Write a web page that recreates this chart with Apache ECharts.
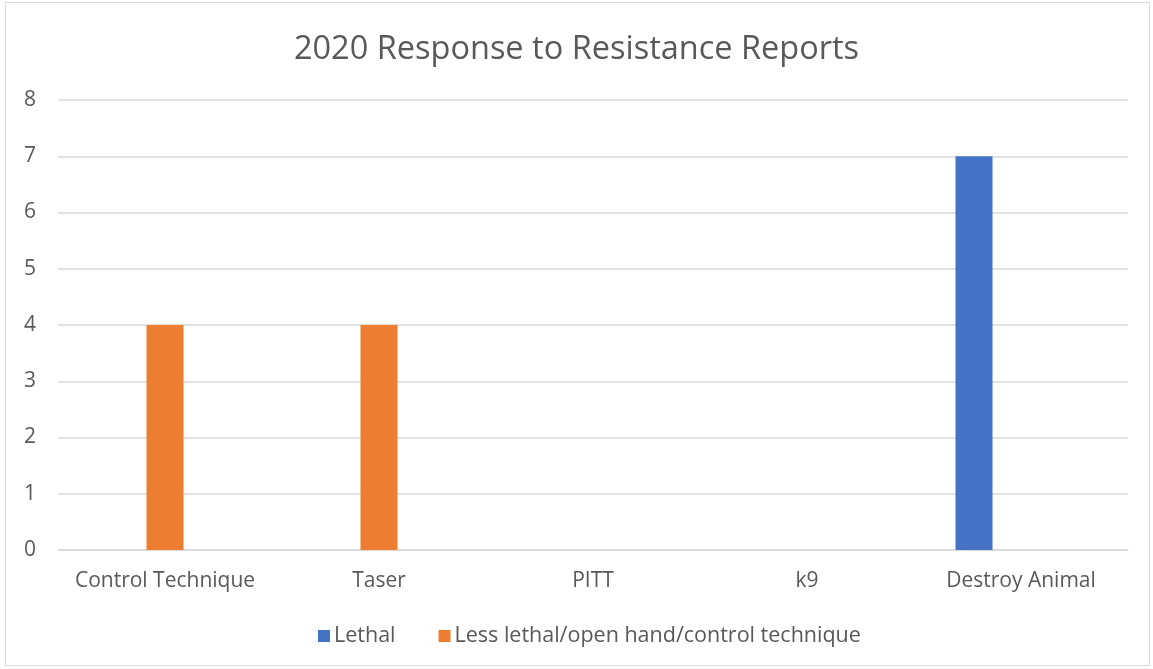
<!DOCTYPE html>
<html><head><meta charset="utf-8">
<script src="https://cdn.jsdelivr.net/npm/echarts@6/dist/echarts.min.js"></script>
<style>html,body{margin:0;padding:0;background:#fff}#wrap{position:absolute;left:5px;top:2px;width:1145px;height:664px;border:1px solid #d9d9d9;box-sizing:border-box}#c{position:absolute;left:0;top:0;width:1153px;height:669px}</style>
</head><body><div id="wrap"></div><div id="c"></div>
<script>
const categories = ["Control Technique", "Taser", "PITT", "k9", "Destroy Animal"];
const lethal = [null, null, null, null, 7];
const lessLethal = [4, 4, null, null, null];
const third = [null, null, null, null, null];
const yTicks = [0, 8, 1];

const chart = echarts.init(document.getElementById('c'));
const font = 'Open Sans, Liberation Sans, Arial, sans-serif';
chart.setOption({
  animation: false,
  title: {text: '2020 Response to Resistance Reports', left: 'center', top: 28,
    textStyle: {fontFamily: font, fontSize: 32.5, fontWeight: 'normal', color: '#595959'}},
  legend: {data: ['Lethal', 'Less lethal/open hand/control technique'], bottom: 17, left: 313,
    itemWidth: 12, itemHeight: 12, itemGap: 43, icon: 'rect',
    textStyle: {fontFamily: font, fontSize: 21.5, color: '#595959', padding: [0,0,0,-1]}},
  grid: {left: 58, right: 25, top: 100, bottom: 119, containLabel: false},
  xAxis: {type: 'category', data: categories,
    axisLine: {lineStyle: {color: '#d9d9d9', width: 1.5}}, axisTick: {show: false},
    axisLabel: {interval: 0, fontFamily: font, fontSize: 21, color: '#595959', margin: 21}},
  yAxis: {type: 'value', min: yTicks[0], max: yTicks[1], interval: yTicks[2],
    axisLine: {show: false}, axisTick: {show: false},
    splitLine: {lineStyle: {color: '#d9d9d9', width: 1.5}},
    axisLabel: {fontFamily: font, fontSize: 21, color: '#595959', margin: 22}},
  series: [
    {name: 'Lethal', type: 'bar', data: lethal, barWidth: 37, barGap: '27%', itemStyle: {color: '#4472c4'}},
    {name: 'Less lethal/open hand/control technique', type: 'bar', data: lessLethal, barWidth: 37, barGap: '27%', itemStyle: {color: '#ed7d31'}},
    {name: 'Series3', type: 'bar', data: third, barWidth: 37, barGap: '27%', itemStyle: {color: '#a5a5a5'}}
  ]
});
</script></body></html>
